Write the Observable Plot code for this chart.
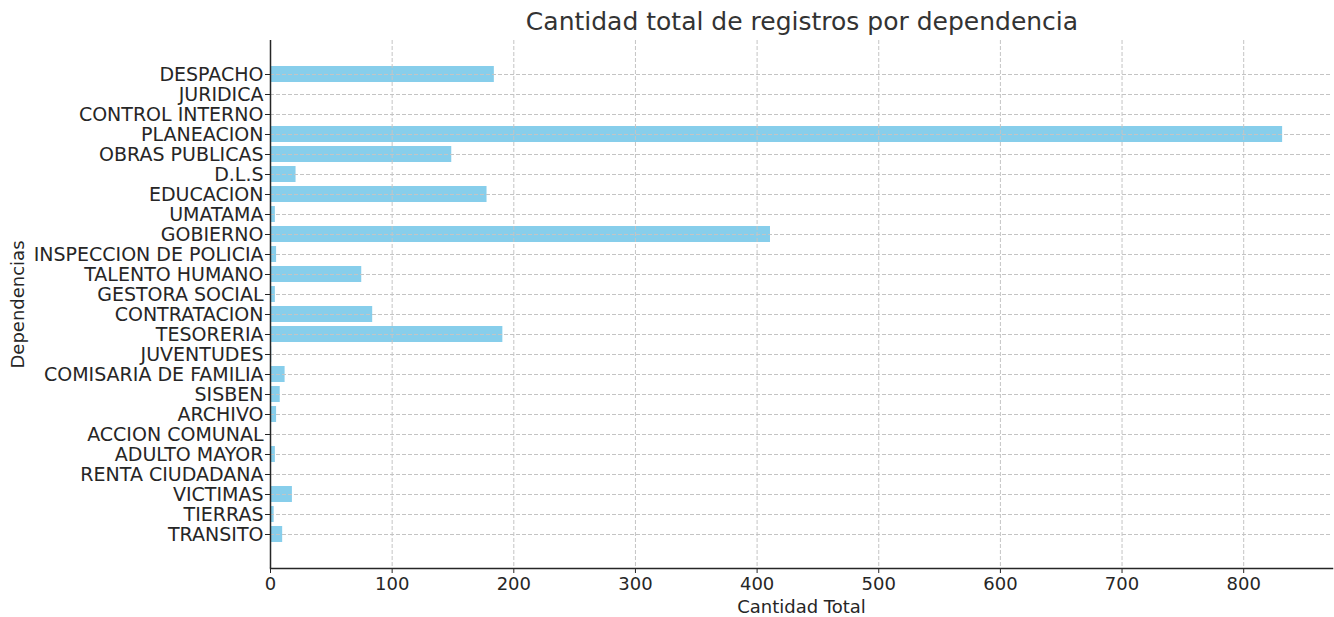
<!DOCTYPE html>
<html>
<head>
<meta charset="utf-8">
<script src="https://cdn.jsdelivr.net/npm/d3@7"></script>
<script src="https://cdn.jsdelivr.net/npm/@observablehq/plot@0.6"></script>
<style>
  html, body { margin: 0; padding: 0; background: #fff; }
  #wrap { width: 1334px; height: 617px; position: relative; font-family: "DejaVu Sans", sans-serif; }
  #title { height: 40px; line-height: 44px; padding-left: 270px; text-align: center; font-size: 25px; color: #333; box-sizing: border-box; }
  svg { display: block; }
</style>
</head>
<body>
<div id="wrap">
  <div id="title">Cantidad total de registros por dependencia</div>
  <div id="chart"></div>
</div>
<script>
const categories = [
  "DESPACHO", "JURIDICA", "CONTROL INTERNO", "PLANEACION", "OBRAS PUBLICAS", "D.L.S",
  "EDUCACION", "UMATAMA", "GOBIERNO", "INSPECCION DE POLICIA", "TALENTO HUMANO",
  "GESTORA SOCIAL", "CONTRATACION", "TESORERIA", "JUVENTUDES", "COMISARIA DE FAMILIA",
  "SISBEN", "ARCHIVO", "ACCION COMUNAL", "ADULTO MAYOR", "RENTA CIUDADANA",
  "VICTIMAS", "TIERRAS", "TRANSITO"
];
const totals = [
  184, 0, 0, 832, 149, 21,
  178, 4, 411, 5, 75,
  4, 84, 191, 1, 12,
  8, 5, 0, 4, 0,
  18, 3, 10
];
const xTicks = [0, 100, 200, 300, 400, 500, 600, 700, 800];

const data = categories.map((c, i) => ({ dep: c, total: totals[i] }));

const gridStyle = { stroke: "#c4c4c4", strokeOpacity: 1, strokeDasharray: "4,2", strokeWidth: 1 };

const chart = Plot.plot({
  width: 1334,
  height: 577,
  marginTop: 0,
  marginBottom: 49,
  marginLeft: 270,
  marginRight: 2,
  style: { fontFamily: "DejaVu Sans", fontSize: "18px", color: "#262626", background: "white" },
  x: { domain: [0, 873] },
  y: { domain: categories, paddingInner: 0.2, paddingOuter: 1.19 },
  marks: [
    Plot.barX(data, { x: "total", y: "dep", fill: "#87CEEB" }),
    Plot.gridX(xTicks, gridStyle),
    Plot.gridY(categories, gridStyle),
    Plot.axisX({ ticks: xTicks, tickSize: 5, tickPadding: 4, label: "Cantidad Total", labelAnchor: "center", labelArrow: "none", labelOffset: 44, fontSize: 18, color: "#262626" }),
    Plot.axisY({ tickSize: 5, tickPadding: 2, label: null, fontSize: 19, color: "#262626" }),
    Plot.axisY({ ticks: [], tickSize: 0, label: "Dependencias", labelAnchor: "center", labelArrow: "none", labelOffset: 259, fontSize: 18, color: "#262626" }),
    Plot.ruleX([0], { stroke: "#262626", strokeWidth: 1.5 }),
    Plot.frame({ anchor: "bottom", stroke: "#262626", strokeWidth: 1.5 })
  ]
});
document.getElementById("chart").appendChild(chart);
</script>
</body>
</html>
